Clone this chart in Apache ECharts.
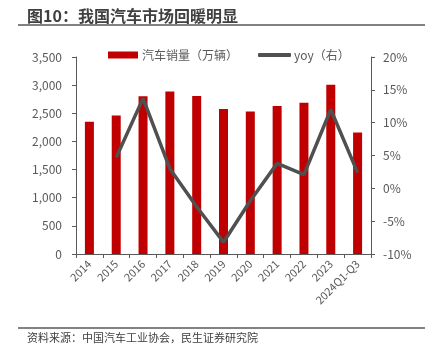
<!DOCTYPE html>
<html><head><meta charset="utf-8">
<script src="https://cdn.jsdelivr.net/npm/echarts@6/dist/echarts.min.js"></script>
<style>html,body{margin:0;padding:0;background:#fff}#c{width:436px;height:352px}</style>
</head><body><div id="c"></div>
<script>
const categories = ['2014','2015','2016','2017','2018','2019','2020','2021','2022','2023','2024Q1-Q3'];
const sales = [2349,2460,2803,2888,2808,2576,2531,2628,2686,3009,2157];
const yoy = [null,4.7,13.7,3.0,-2.8,-8.2,-1.9,3.8,2.1,12.0,2.4];
const leftTicks = {min:0,max:3500,interval:500};
const rightTicks = {min:-10,max:20,interval:5};

const chart = echarts.init(document.getElementById('c'), null, {renderer:'canvas'});
const fam = '"Noto Sans CJK SC","Noto Sans",sans-serif';
const gray = '#595959';
chart.setOption({
  animation:false,
  textStyle:{fontFamily:fam},
  graphic:[
    {type:'text',left:27,top:8,style:{text:'图10：我国汽车市场回暖明显',font:'bold 16px '+fam,fill:'#404040'}},
    {type:'line',shape:{x1:18,y1:25,x2:425,y2:25},style:{stroke:'#595959',lineWidth:1.5}},
    {type:'line',shape:{x1:18,y1:328,x2:425,y2:328},style:{stroke:'#595959',lineWidth:1.5}},
    {type:'text',left:27,top:332,style:{text:'资料来源：中国汽车工业协会，民生证券研究院',font:'11px '+fam,fill:'#404040'}}
  ],
  legend:[
    {left:103,top:44,itemWidth:30,itemHeight:7,itemGap:10,icon:'rect',data:['汽车销量（万辆）'],
     textStyle:{color:gray,fontSize:12,fontFamily:fam,padding:[0,0,0,-1]}},
    {left:253,top:44,itemWidth:33,itemHeight:4,icon:'roundRect',data:['yoy（右）'],
     textStyle:{color:gray,fontSize:12,fontFamily:fam,padding:[0,0,0,-2]}}
  ],
  grid:{left:76,right:65,top:57,bottom:98,containLabel:false},
  xAxis:{type:'category',data:categories,
    axisLine:{lineStyle:{color:gray,width:1}},
    axisTick:{show:true,alignWithLabel:false,lineStyle:{color:gray},length:4},
    axisLabel:{rotate:45,color:gray,fontSize:11,margin:8,interval:0}},
  yAxis:[
    {type:'value',min:leftTicks.min,max:leftTicks.max,interval:leftTicks.interval,
     splitLine:{show:false},axisLine:{show:true,lineStyle:{color:gray}},
     axisTick:{show:true,length:4,lineStyle:{color:gray}},
     axisLabel:{color:gray,fontSize:12,margin:14,formatter:v=>v.toLocaleString('en-US')}},
    {type:'value',min:rightTicks.min,max:rightTicks.max,interval:rightTicks.interval,position:'right',
     splitLine:{show:false},axisLine:{show:true,lineStyle:{color:gray}},
     axisTick:{show:true,length:4,lineStyle:{color:gray}},
     axisLabel:{color:gray,fontSize:12,margin:12,formatter:v=>v+'%'}}
  ],
  series:[
    {name:'汽车销量（万辆）',type:'bar',data:sales,barWidth:9,itemStyle:{color:'#C00000'},yAxisIndex:0},
    {name:'yoy（右）',type:'line',data:yoy,yAxisIndex:1,symbol:'none',lineStyle:{color:'#505050',width:3.5},itemStyle:{color:'#505050'},connectNulls:false}
  ]
});
</script></body></html>
